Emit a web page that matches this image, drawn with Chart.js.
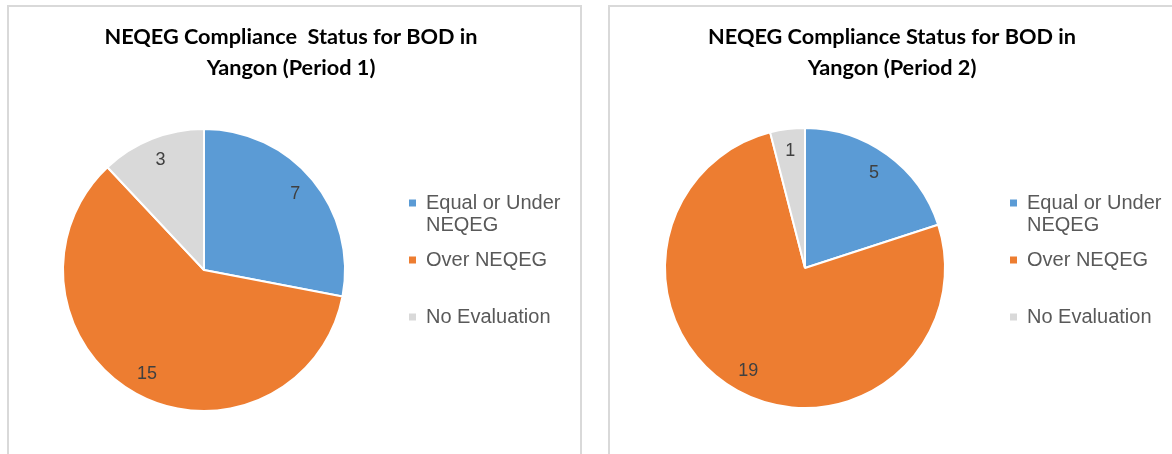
<!DOCTYPE html>
<html>
<head>
<meta charset="utf-8">
<script src="https://cdn.jsdelivr.net/npm/chart.js@4"></script>
<style>
html,body{margin:0;padding:0;background:#fff;width:1172px;height:454px;overflow:hidden;position:relative}
.box{position:absolute;top:5px;border:2px solid #d9d9d9;box-sizing:border-box;height:520px}
#box1{left:7px;width:575px}
#box2{left:608px;width:640px}
canvas{position:absolute;top:7px}
#c1{left:9px}
#c2{left:611px}
</style>
</head>
<body>
<div class="box" id="box1"></div>
<div class="box" id="box2"></div>
<canvas id="c1" width="572" height="440"></canvas>
<canvas id="c2" width="561" height="440"></canvas>
<script>
// ---- data ----
const categories = ['Equal or Under NEQEG', 'Over NEQEG', 'No Evaluation'];
const legendLines = [['Equal or Under', 'NEQEG'], ['Over NEQEG', ''], ['No Evaluation', '']];
const period1Values = [7, 15, 3];
const period2Values = [5, 19, 1];
const title1 = ['NEQEG Compliance  Status for BOD in', 'Yangon (Period 1)'];
const title2 = ['NEQEG Compliance Status for BOD in', 'Yangon (Period 2)'];
const sliceColors = ['#5B9BD5', '#ED7D31', '#D9D9D9'];

// ---- slice value labels ----
const sliceLabels = {
  id: 'sliceLabels',
  afterDatasetsDraw(chart) {
    const ctx = chart.ctx;
    const meta = chart.getDatasetMeta(0);
    const values = chart.data.datasets[0].data;
    ctx.save();
    ctx.font = '18px "Liberation Sans", Arial, sans-serif';
    ctx.fillStyle = '#404040';
    ctx.textAlign = 'center';
    ctx.textBaseline = 'middle';
    meta.data.forEach((arc, i) => {
      const p = arc.getProps(['x', 'y', 'startAngle', 'endAngle', 'outerRadius'], true);
      const mid = (p.startAngle + p.endAngle) / 2;
      const r = p.outerRadius * 0.84;
      ctx.fillText(String(values[i]), p.x + Math.cos(mid) * r, p.y + Math.sin(mid) * r);
    });
    ctx.restore();
  }
};

function makeChart(id, values, title, radius, pad) {
  return new Chart(document.getElementById(id), {
    type: 'pie',
    data: {
      labels: categories,
      datasets: [{
        data: values,
        backgroundColor: sliceColors,
        borderColor: '#ffffff',
        borderWidth: 2,
        radius: radius
      }]
    },
    plugins: [sliceLabels],
    options: {
      responsive: false,
      animation: false,
      events: [],
      layout: { padding: pad },
      plugins: {
        tooltip: { enabled: false },
        title: {
          display: true,
          text: title,
          color: '#000000',
          font: { family: 'Lato', weight: 'bold', size: 21.7, lineHeight: '31px' },
          padding: { top: 14.5, bottom: 96.5 }
        },
        legend: {
          position: 'right',
          align: 'start',
          fullSize: false,
          maxWidth: 174,
          labels: {
            boxWidth: 7,
            boxHeight: 7,
            padding: 13,
            color: '#595959',
            font: { family: '"Liberation Sans", Arial, sans-serif', size: 20, lineHeight: '22px' },
            generateLabels(chart) {
              const ds = chart.data.datasets[0];
              return legendLines.map((t, i) => ({
                text: t,
                fillStyle: ds.backgroundColor[i],
                strokeStyle: ds.backgroundColor[i],
                lineWidth: 0,
                hidden: false,
                index: i,
                fontColor: '#595959'
              }));
            }
          }
        }
      }
    }
  });
}

makeChart('c1', period1Values, title1, 141, { left: 3, right: 11, top: 0, bottom: 87 });
makeChart('c2', period2Values, title2, 140, { left: 2, right: 1, top: 0, bottom: 91 });
</script>
</body>
</html>
